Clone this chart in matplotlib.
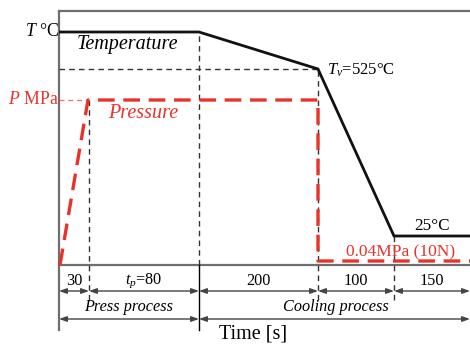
import numpy as np
import matplotlib
matplotlib.use('Agg')
import matplotlib.pyplot as plt

plt.rcParams['font.family'] = 'Liberation Serif'
plt.rcParams['mathtext.fontset'] = 'custom'
plt.rcParams['mathtext.rm'] = 'Liberation Serif'
plt.rcParams['mathtext.it'] = 'Liberation Serif:italic'

# process phases (s) and their labels
durations = [30, 80, 200, 100, 150]
dur_labels = ['30', '$t_p$=80', '200', '100', '150']
t_breaks = np.concatenate([[0], np.cumsum(durations)])   # 0, 30, 110, 310, 410, 560
# schematic (not to scale) width given to each boundary on the time axis
t_pos = [0, 30, 140, 259, 335, 411]

phases = ['Press process', 'Cooling process']
phase_bounds = [(0, 110), (110, 560)]

# schematic levels of the two curves
temp_t = [0, 110, 310, 410, 560]
temp_lvl = [233, 233, 196, 29, 29]
press_t = [1, 29, 310, 310, 560]
press_lvl = [0, 165, 165, 4, 4]

RED = '#e8332b'
GRAY = '#6e6e6e'


def fwd(t):
    return np.interp(t, t_breaks, t_pos)


def inv(p):
    return np.interp(p, t_pos, t_breaks)


fig = plt.figure(figsize=(4.7, 3.44), dpi=100)
ax = fig.add_axes([59 / 470, (344 - 265) / 344, 411 / 470, 254 / 344])
ax.set_xscale('function', functions=(fwd, inv))
ax.set_xlim(0, 560)
ax.set_ylim(0, 254)
for s in ax.spines.values():
    s.set_visible(False)
ax.set_xticks([])
ax.set_yticks([])

# frame: top, bottom (time axis) and a long left edge
ax.plot([0, 560], [254, 254], color=GRAY, lw=1.6, clip_on=False)
ax.plot([0, 560], [0, 0], color=GRAY, lw=1.6, clip_on=False)
ax.plot([0, 0], [-65, 254], color=GRAY, lw=1.6, clip_on=False)

# guide lines
dash_k = dict(color='#333333', lw=1.0, ls=(0, (4, 3)), clip_on=False)
ax.plot([0, 310], [196, 196], **dash_k)
ax.plot([110, 110], [0, 233], **dash_k)
ax.plot([110, 110], [-65, 0], color='black', lw=1.0, clip_on=False)
ax.plot([30, 30], [-35, 165], **dash_k)
ax.plot([310, 310], [-35, 196], **dash_k)
ax.plot([410, 410], [-35, 29], **dash_k)
ax.plot([0, 28], [165, 165], color=RED, lw=0.9, ls=(0, (4, 3)), alpha=0.7)

# curves
ax.plot(temp_t, temp_lvl, color='#111111', lw=2.0, solid_joinstyle='miter')
ax.plot(press_t, press_lvl, color=RED, lw=2.4, ls=(0, (5, 2.6)), clip_on=False)

# curve labels
ax.text(-6, 233, '$T$ °C', ha='right', va='center', fontsize=12.8)
ax.text(-3, 165, '$P$ MPa', ha='right', va='center', fontsize=12.8, color=RED)
ax.text(inv(18), 220, 'Temperature', ha='left', va='center', fontsize=14.5, style='italic')
ax.text(inv(49), 152, 'Pressure', ha='left', va='center', fontsize=14.5, style='italic', color=RED)
ax.text(inv(268), 195, '$T_v$=525°C', ha='left', va='center', fontsize=12)
ax.text(inv(373), 39, '25°C', ha='center', va='center', fontsize=12.3)
ax.text(inv(342), 13, '0.04MPa (10N)', ha='center', va='center', fontsize=12.5, color=RED)

# duration row
arrow = dict(arrowstyle='<|-|>,head_length=0.45,head_width=0.16', color='#444444',
             lw=1.0, shrinkA=0, shrinkB=0)
for i, lab in enumerate(dur_labels):
    a, b = t_breaks[i], t_breaks[i + 1]
    mid = inv((fwd(a) + fwd(b)) / 2)
    ax.annotate('', xy=(a, -26), xytext=(b, -26), arrowprops=arrow, annotation_clip=False)
    ax.text(mid, -16, lab, ha='center', va='center', fontsize=11.7)

# process row
for lab, (a, b) in zip(phases, phase_bounds):
    mid = inv((fwd(a) + fwd(b)) / 2)
    if b == 560:
        mid = inv(277)
    ax.annotate('', xy=(a, -54), xytext=(b, -54), arrowprops=arrow, annotation_clip=False)
    ax.text(mid, -42, lab, ha='center', va='center', fontsize=11.7, style='italic')

ax.text(inv(194), -69, 'Time [s]', ha='center', va='center', fontsize=14.5)

fig.savefig('out.png', dpi=100)
